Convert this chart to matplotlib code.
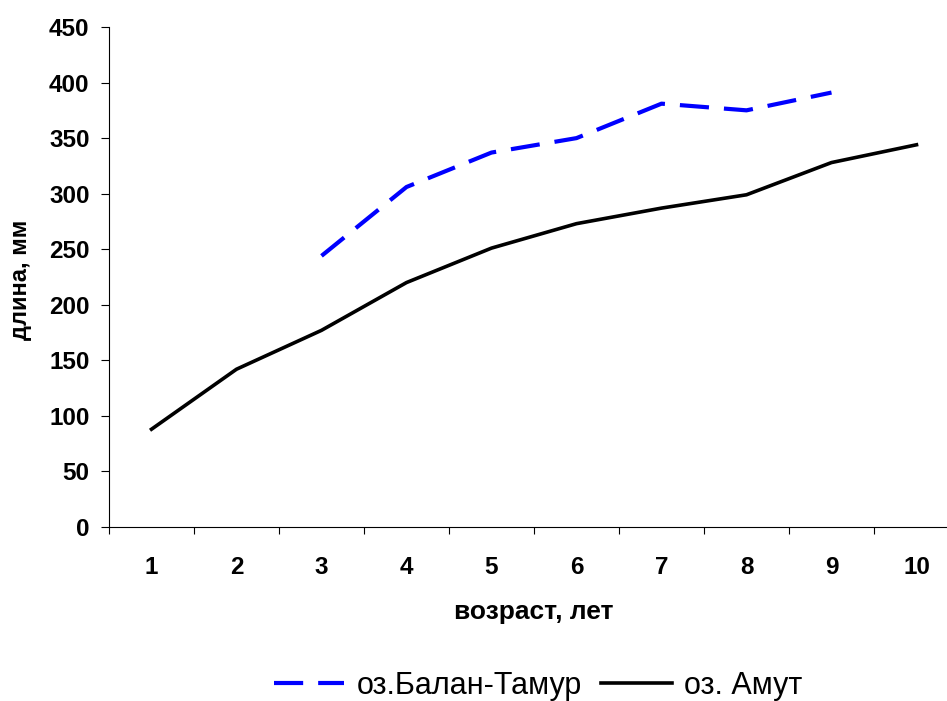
import matplotlib
matplotlib.use("Agg")
import matplotlib.pyplot as plt
import numpy as np

plt.rcParams['font.family'] = ['Liberation Sans', 'DejaVu Sans']

# Age classes (years)
ages = [1, 2, 3, 4, 5, 6, 7, 8, 9, 10]
age_labels = ["1", "2", "3", "4", "5", "6", "7", "8", "9", "10"]

# Mean length at age, mm
balan_tamur_ages = [3, 4, 5, 6, 7, 8, 9]
balan_tamur_len = [244, 306, 337, 350, 381, 375, 391]

amut_ages = [1, 2, 3, 4, 5, 6, 7, 8, 9, 10]
amut_len = [88, 142, 177, 220, 251, 273, 287, 299, 328, 344]

y_ticks = [0, 50, 100, 150, 200, 250, 300, 350, 400, 450]

W, H = 947, 701
fig = plt.figure(figsize=(W / 100, H / 100), dpi=100)
ax = fig.add_axes([109 / W, (H - 527) / H, 850 / W, 500 / H])

ax.plot(balan_tamur_ages, balan_tamur_len, color='#0000FF', lw=3.0,
        dashes=(7.0, 3.6), label='оз.Балан-Тамур', solid_capstyle='butt',
        dash_capstyle='butt')
ax.plot(amut_ages, amut_len, color='black', lw=2.6, label='оз. Амут')

ax.set_xlim(0.5, 10.5)
ax.set_ylim(0, 450)

# category boundaries carry the tick marks, labels sit at the centres
ax.set_xticks(np.arange(0.5, 11.0, 1.0))
ax.set_xticklabels([])
ax.set_xticks(ages, minor=True)
ax.set_xticklabels(age_labels, minor=True, fontsize=17.5, fontweight='bold')
ax.tick_params(axis='x', which='major', direction='out', length=5, width=0.8)
ax.tick_params(axis='x', which='minor', length=0, pad=21)

ax.set_yticks(y_ticks)
ax.set_yticklabels([str(v) for v in y_ticks], fontsize=17.5, fontweight='bold')
ax.tick_params(axis='y', direction='out', length=6, width=0.8, pad=8)

for s in ('top', 'right'):
    ax.spines[s].set_visible(False)
for s in ('left', 'bottom'):
    ax.spines[s].set_linewidth(0.8)
    ax.spines[s].set_color('black')

fig.text(534 / W, 1 - 612 / H, 'возраст, лет', ha='center', va='center',
         fontsize=19, fontweight='bold')
fig.text(20 / W, 1 - 280 / H, 'длина, мм', ha='center', va='center',
         rotation=90, fontsize=17, fontweight='bold')

fig.legend(loc='center', bbox_to_anchor=(538 / W, 1 - 686 / H), ncol=2,
           frameon=False, fontsize=22, handlelength=2.3, handletextpad=0.4,
           columnspacing=0.65)

fig.savefig('out.png', dpi=100)
